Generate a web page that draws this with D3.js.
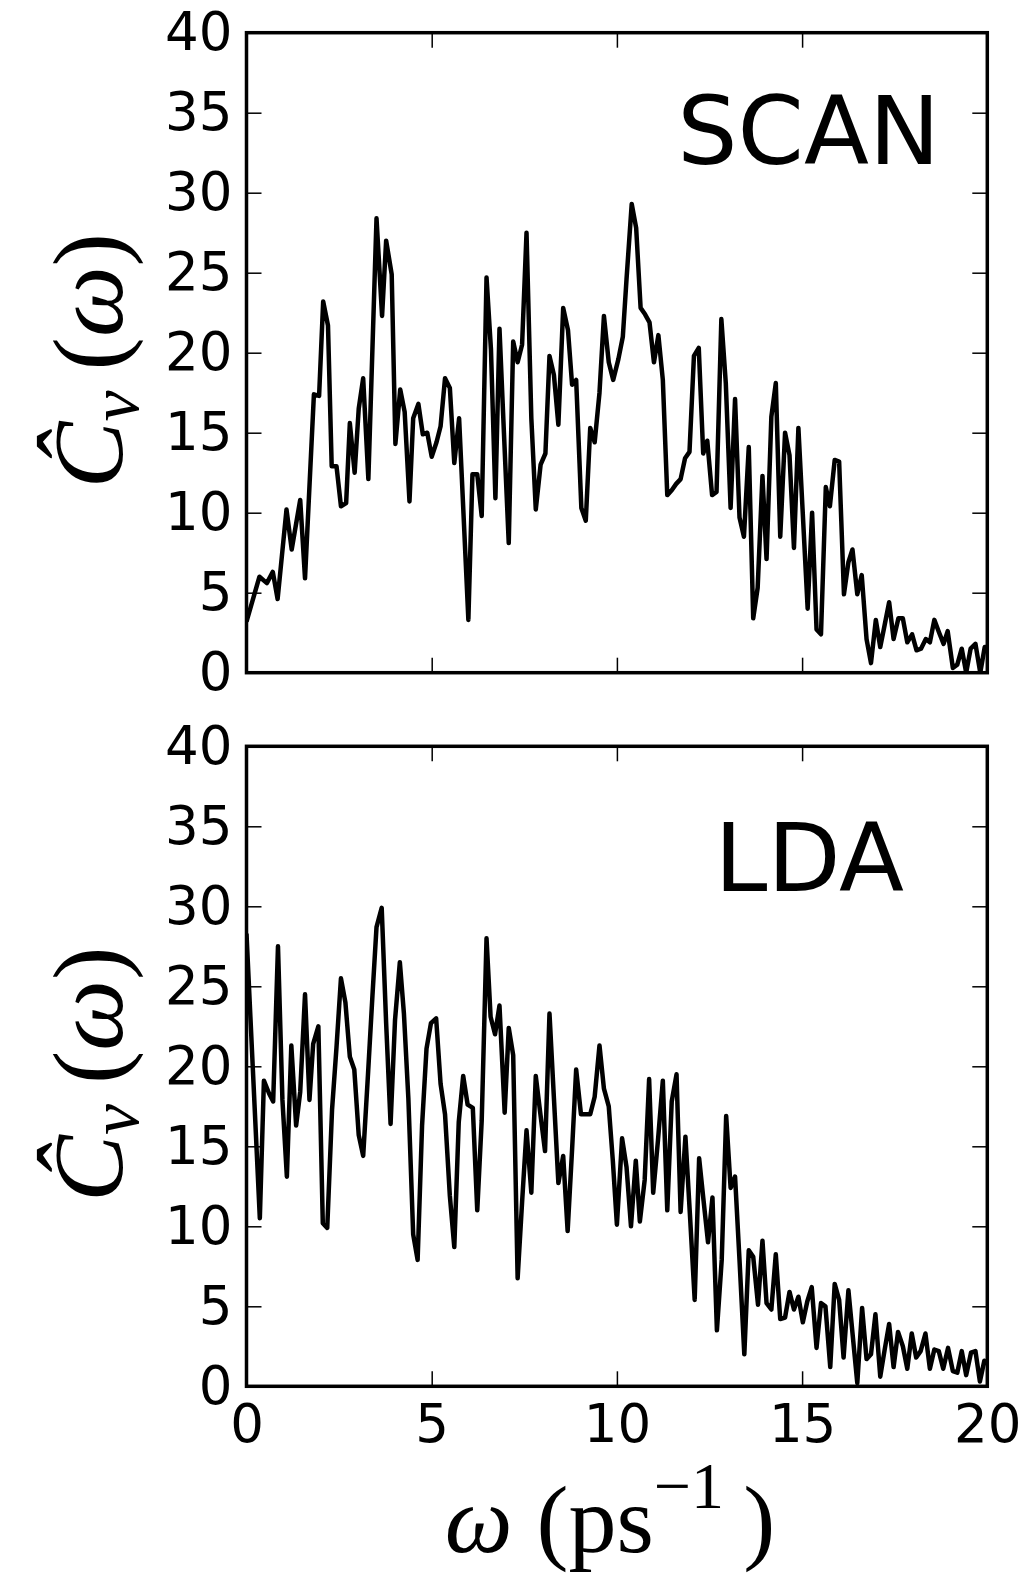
<!DOCTYPE html>
<html>
<head>
<meta charset="utf-8">
<script src="https://cdn.jsdelivr.net/npm/d3@7"></script>
<style>
    body { margin: 0; background: #fff; }
    svg { display: block; }
    .tick text { font-family: "DejaVu Sans", sans-serif; font-size: 53px; fill: #000; }
    .tick line { stroke: #000; stroke-width: 1.5; }
</style>
</head>
<body>
<svg id="chart" width="1029" height="1580"></svg>
<script>
// frequency grid and spectra
const scanOmega = [0.0, 0.35, 0.55, 0.71, 0.84, 1.08, 1.22, 1.45, 1.58, 1.82, 1.96, 2.07, 2.20, 2.30, 2.43, 2.55, 2.69, 2.79, 2.92, 3.03, 3.15, 3.29, 3.51, 3.66, 3.77, 3.92, 4.02, 4.15, 4.27, 4.40, 4.50, 4.64, 4.76, 4.88, 5.00, 5.13, 5.24, 5.36, 5.49, 5.61, 5.74, 5.99, 6.10, 6.23, 6.35, 6.48, 6.60, 6.72, 6.83, 6.95, 7.08, 7.20, 7.32, 7.44, 7.56, 7.69, 7.81, 7.94, 8.07, 8.18, 8.30, 8.42, 8.55, 8.68, 8.79, 8.90, 9.04, 9.16, 9.28, 9.40, 9.53, 9.65, 9.78, 9.90, 10.04, 10.16, 10.26, 10.40, 10.52, 10.64, 10.76, 10.88, 11.00, 11.12, 11.24, 11.36, 11.48, 11.60, 11.72, 11.84, 11.96, 12.08, 12.21, 12.33, 12.44, 12.57, 12.69, 12.82, 12.94, 13.07, 13.19, 13.31, 13.43, 13.56, 13.68, 13.80, 13.93, 14.04, 14.17, 14.29, 14.41, 14.54, 14.66, 14.78, 14.90, 15.15, 15.27, 15.39, 15.51, 15.64, 15.75, 15.88, 16.00, 16.13, 16.25, 16.36, 16.49, 16.61, 16.74, 16.86, 16.99, 17.11, 17.23, 17.35, 17.47, 17.60, 17.72, 17.84, 17.97, 18.09, 18.21, 18.34, 18.45, 18.57, 18.70, 18.82, 18.93, 19.07, 19.19, 19.31, 19.43, 19.55, 19.68, 19.81, 19.93, 20.0];
const scanValues = [3.2, 6.0, 5.6, 6.3, 4.6, 10.2, 7.7, 10.8, 5.9, 17.4, 17.3, 23.2, 21.7, 12.9, 12.9, 10.4, 10.6, 15.6, 12.5, 16.5, 18.4, 12.1, 28.4, 22.3, 27.0, 24.9, 14.3, 17.7, 16.3, 10.7, 15.9, 16.8, 14.9, 15.0, 13.5, 14.4, 15.4, 18.4, 17.8, 13.1, 15.9, 3.3, 12.4, 12.4, 9.8, 24.7, 20.2, 10.9, 21.5, 15.0, 8.1, 20.7, 19.4, 20.5, 27.5, 15.9, 10.2, 13.0, 13.7, 19.8, 18.6, 15.5, 22.8, 21.4, 18.0, 18.3, 10.3, 9.5, 15.3, 14.4, 17.5, 22.3, 19.4, 18.3, 19.6, 21.0, 24.6, 29.3, 27.8, 22.8, 22.4, 21.9, 19.4, 21.1, 18.3, 11.1, 11.4, 11.8, 12.1, 13.4, 13.8, 19.8, 20.3, 13.7, 14.5, 11.1, 11.3, 22.1, 18.1, 10.3, 17.1, 9.7, 8.5, 14.1, 3.4, 5.3, 12.3, 7.1, 16.0, 18.1, 8.5, 15.0, 13.6, 7.8, 15.3, 4.0, 10.0, 2.7, 2.4, 11.6, 10.4, 13.3, 13.2, 4.9, 6.9, 7.7, 4.9, 6.1, 2.1, 0.6, 3.3, 1.6, 3.0, 4.4, 2.1, 3.4, 3.4, 1.9, 2.4, 1.4, 1.5, 2.1, 1.9, 3.3, 2.5, 1.8, 2.6, 0.3, 0.5, 1.5, 0.0, 1.5, 1.8, 0.0, 1.6, 1.6];

const ldaOmega = [0.0, 0.36, 0.47, 0.61, 0.72, 0.85, 0.97, 1.09, 1.21, 1.34, 1.45, 1.58, 1.70, 1.80, 1.94, 2.06, 2.18, 2.31, 2.43, 2.55, 2.67, 2.79, 2.91, 3.03, 3.15, 3.28, 3.40, 3.51, 3.65, 3.77, 3.89, 4.01, 4.14, 4.25, 4.37, 4.50, 4.62, 4.74, 4.86, 4.98, 5.12, 5.24, 5.36, 5.49, 5.61, 5.73, 5.85, 5.97, 6.11, 6.23, 6.35, 6.48, 6.59, 6.71, 6.83, 6.97, 7.08, 7.20, 7.32, 7.44, 7.56, 7.69, 7.81, 7.93, 8.06, 8.18, 8.30, 8.42, 8.55, 8.67, 8.79, 8.90, 9.03, 9.15, 9.28, 9.40, 9.53, 9.65, 9.78, 9.89, 10.00, 10.14, 10.26, 10.38, 10.51, 10.62, 10.75, 10.87, 10.98, 11.11, 11.24, 11.36, 11.48, 11.61, 11.72, 11.85, 11.97, 12.10, 12.22, 12.34, 12.46, 12.58, 12.70, 12.83, 12.95, 13.07, 13.19, 13.31, 13.44, 13.56, 13.68, 13.81, 13.93, 14.04, 14.17, 14.29, 14.41, 14.54, 14.66, 14.78, 14.90, 15.02, 15.14, 15.26, 15.39, 15.51, 15.63, 15.76, 15.88, 16.00, 16.12, 16.25, 16.37, 16.49, 16.62, 16.74, 16.86, 16.98, 17.11, 17.23, 17.35, 17.47, 17.59, 17.72, 17.84, 17.96, 18.08, 18.20, 18.33, 18.45, 18.57, 18.69, 18.81, 18.94, 19.07, 19.19, 19.31, 19.43, 19.56, 19.68, 19.80, 19.92, 20.0];
const ldaValues = [28.3, 10.5, 19.1, 18.3, 17.8, 27.5, 17.9, 13.1, 21.3, 16.3, 18.4, 24.5, 17.9, 21.4, 22.5, 10.2, 9.9, 17.3, 21.2, 25.5, 24.0, 20.6, 19.8, 15.7, 14.4, 19.5, 24.4, 28.7, 29.9, 22.7, 16.4, 22.9, 26.5, 23.3, 18.0, 9.5, 7.9, 16.3, 21.1, 22.7, 23.0, 18.9, 17.0, 11.9, 8.7, 16.5, 19.4, 17.6, 17.4, 11.0, 16.6, 28.0, 23.1, 22.0, 23.8, 17.1, 22.4, 20.7, 6.75, 11.5, 16.0, 12.1, 19.4, 17.1, 14.7, 23.3, 18.0, 12.7, 14.4, 9.7, 14.8, 19.8, 17.0, 17.0, 17.0, 18.1, 21.3, 18.6, 17.5, 14.1, 10.1, 15.5, 13.7, 10.0, 14.1, 10.3, 12.9, 19.2, 12.1, 15.4, 19.1, 11.0, 17.8, 19.5, 10.9, 15.6, 10.8, 5.4, 14.25, 11.6, 9.0, 11.8, 3.5, 7.9, 16.9, 12.4, 13.1, 7.9, 2.0, 8.5, 8.1, 5.1, 9.1, 5.2, 4.8, 8.25, 4.2, 4.3, 5.9, 4.8, 5.6, 4.0, 5.3, 6.2, 2.4, 5.2, 5.0, 1.2, 6.4, 5.4, 1.8, 6.0, 3.1, 0.2, 4.9, 1.7, 2.0, 4.5, 0.6, 2.3, 3.9, 1.2, 3.4, 2.5, 1.1, 3.3, 1.8, 2.2, 3.3, 1.1, 2.3, 2.2, 1.1, 2.4, 0.95, 0.85, 2.2, 0.7, 2.1, 2.2, 0.3, 1.6, 1.4];

const xTicks = [0, 5, 10, 15, 20];
const yTicks = [0, 5, 10, 15, 20, 25, 30, 35, 40];
const panelNames = ["SCAN", "LDA"];

window.onload = () => {
    let svg = d3.select("#chart");

    let left = 246.5, right = 987.3;
    let panelTops = [32.7, 746.3];
    let panelHeight = 640;

    let x = d3.scaleLinear().domain([0, 20]).range([left, right]);

    let series = [
        {omega: scanOmega, values: scanValues, name: panelNames[0], nameX: 940, nameY: 164},
        {omega: ldaOmega, values: ldaValues, name: panelNames[1], nameX: 904, nameY: 891}
    ];

    series.forEach(function (s, i) {
        let top = panelTops[i];
        let bottom = top + panelHeight;
        let y = d3.scaleLinear().domain([0, 40]).range([bottom, top]);
        let g = svg.append("g");

        svg.append("clipPath")
        .attr("id", "clip" + i)
        .append("rect")
        .attr("x", left)
        .attr("y", top)
        .attr("width", right - left)
        .attr("height", panelHeight);

        // inward ticks on all four sides
        g.append("g")
        .attr("transform", `translate(${left},0)`)
        .call(d3.axisLeft(y).tickValues(yTicks).tickSize(-15).tickPadding(14))
        .call(a => a.select(".domain").remove());

        g.append("g")
        .attr("transform", `translate(${right},0)`)
        .call(d3.axisRight(y).tickValues(yTicks).tickSize(-15).tickFormat(""))
        .call(a => a.select(".domain").remove());

        g.append("g")
        .attr("transform", `translate(0,${top})`)
        .call(d3.axisTop(x).tickValues(xTicks).tickSize(-15).tickFormat(""))
        .call(a => a.select(".domain").remove());

        let bottomAxis = d3.axisBottom(x).tickValues(xTicks).tickSize(-15).tickPadding(18);
        if (i == 0) bottomAxis.tickFormat("");
        g.append("g")
        .attr("transform", `translate(0,${bottom})`)
        .call(bottomAxis)
        .call(a => a.select(".domain").remove());

        let line = d3.line()
        .x((d, k) => x(s.omega[k]))
        .y(d => y(d));

        g.append("path")
        .datum(s.values)
        .attr("d", line)
        .attr("clip-path", `url(#clip${i})`)
        .attr("fill", "none")
        .attr("stroke", "#000")
        .attr("stroke-width", 4.5)
        .attr("stroke-linejoin", "round");

        g.append("rect")
        .attr("x", left)
        .attr("y", top)
        .attr("width", right - left)
        .attr("height", panelHeight)
        .attr("fill", "none")
        .attr("stroke", "#000")
        .attr("stroke-width", 3.5);

        g.append("text")
        .attr("x", s.nameX)
        .attr("y", s.nameY)
        .attr("text-anchor", "end")
        .style("font-family", "DejaVu Sans, sans-serif")
        .style("font-size", "95px")
        .text(s.name);

        // y label: C hat sub v (omega)
        let ylab = g.append("text")
        .attr("transform", `translate(122,${top + 328}) rotate(-90)`)
        .attr("text-anchor", "middle")
        .style("font-family", "Liberation Serif, serif")
        .style("font-size", "100px");
        ylab.append("tspan").style("font-style", "italic").text("C\u0302");
        ylab.append("tspan").style("font-style", "italic").style("font-size", "70px").attr("dy", 16).text("v");
        ylab.append("tspan").attr("dy", -16).text("\u2009(");
        ylab.append("tspan").style("font-style", "italic").text("ω");
        ylab.append("tspan").text(")");
    });

    let xlab = svg.append("text")
    .attr("x", 610)
    .attr("y", 1552)
    .attr("text-anchor", "middle")
    .style("font-family", "Liberation Serif, serif")
    .style("font-size", "96px");
    xlab.append("tspan").style("font-style", "italic").text("ω");
    xlab.append("tspan").text(" (ps");
    xlab.append("tspan").style("font-size", "66px").attr("dy", -44).text("\u22121");
    xlab.append("tspan").attr("dy", 44).text("\u2009)");
}
</script>
</body>
</html>
